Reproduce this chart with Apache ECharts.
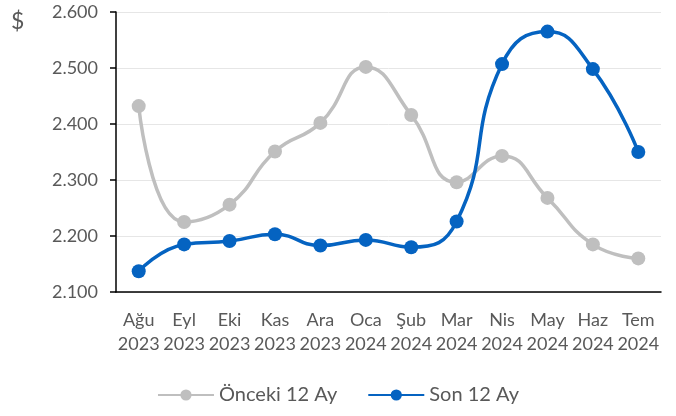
<!DOCTYPE html>
<html><head><meta charset="utf-8">
<script src="https://cdn.jsdelivr.net/npm/echarts@6/dist/echarts.min.js"></script>
<style>html,body{margin:0;padding:0;background:#fff}#c{width:676px;height:416px}</style>
</head><body><div id="c"></div>
<script>
const months = ['Ağu','Eyl','Eki','Kas','Ara','Oca','Şub','Mar','Nis','May','Haz','Tem'];
const years = ['2023','2023','2023','2023','2023','2024','2024','2024','2024','2024','2024','2024'];
const prev12 = [2432,2225,2256,2351,2402,2502,2416,2296,2343,2268,2185,2160];
const last12 = [2137,2185,2191,2203,2183,2193,2180,2226,2507,2565,2498,2350];
const yMin = 2100, yMax = 2600, yStep = 100;
const categories = months.map((m,i)=>m+'\n'+years[i]);
const font = 'Lato, "Open Sans", sans-serif';
const chart = echarts.init(document.getElementById('c'), null, {renderer:'canvas'});
chart.setOption({
  animation:false,
  textStyle:{fontFamily:font},
  grid:{left:116,right:15,top:12,bottom:124},
  graphic:[{type:'text',left:11,top:10,style:{text:'$',fontSize:23,fill:'#595959',fontFamily:font}}],
  legend:{bottom:6,left:'center',itemWidth:56,itemHeight:14,itemGap:30,
    textStyle:{fontSize:20,color:'#595959',fontFamily:font},
    data:['Önceki 12 Ay','Son 12 Ay']},
  xAxis:{type:'category',data:categories,boundaryGap:true,
    axisLine:{lineStyle:{color:'#000',width:1.5}},
    axisTick:{alignWithLabel:true,length:6,lineStyle:{color:'#000',width:1.5}},
    axisLabel:{fontSize:18,color:'#595959',lineHeight:24,margin:16,interval:0,fontFamily:font}},
  yAxis:{type:'value',min:yMin,max:yMax,interval:yStep,
    axisLine:{show:true,lineStyle:{color:'#000',width:1.5}},
    axisTick:{show:true,length:6,lineStyle:{color:'#000',width:1.5}},
    splitLine:{lineStyle:{color:'#e6e6e6',width:1}},
    axisLabel:{fontSize:18,color:'#595959',margin:18,fontFamily:font,
      formatter:v=>{const s=String(v);return s.slice(0,s.length-3)+'.'+s.slice(-3);}}},
  series:[
    {name:'Önceki 12 Ay',type:'line',data:prev12,smooth:0.5,symbol:'circle',symbolSize:14,
      itemStyle:{color:'#bfbfbf'},lineStyle:{color:'#bfbfbf',width:3.5}},
    {name:'Son 12 Ay',type:'line',data:last12,smooth:0.5,symbol:'circle',symbolSize:14,
      itemStyle:{color:'#0563c1'},lineStyle:{color:'#0563c1',width:3.5}}
  ]
});
</script></body></html>
